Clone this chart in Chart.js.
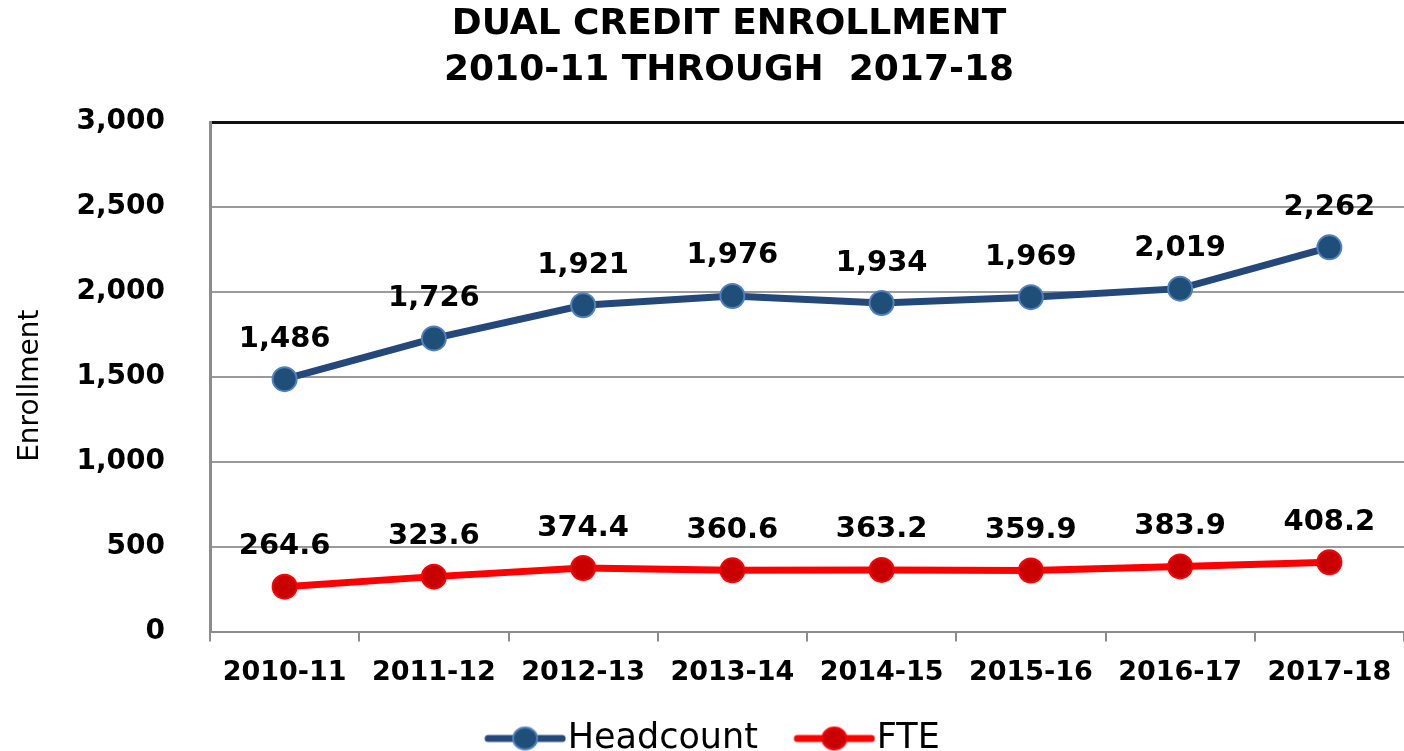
<!DOCTYPE html>
<html lang="en">
<head>
  <meta charset="UTF-8">
  <title>Dual Credit Enrollment</title>
  <style>
    html, body { margin: 0; padding: 0; background: #fff; overflow: hidden; }
    canvas { display: block; }
  </style>
</head>
<body>
  <canvas id="enrollChart" width="1404" height="751"></canvas>

  <script src="https://cdn.jsdelivr.net/npm/chart.js"></script>
  <script>
    // chart data
    const years = ['2010-11', '2011-12', '2012-13', '2013-14', '2014-15', '2015-16', '2016-17', '2017-18'];
    const headcount = [1486, 1726, 1921, 1976, 1934, 1969, 2019, 2262];
    const fte = [264.6, 323.6, 374.4, 360.6, 363.2, 359.9, 383.9, 408.2];
    const seriesNames = ['Headcount', 'FTE'];
    const titleLines = ['DUAL CREDIT ENROLLMENT', '2010-11 THROUGH  2017-18'];

    const FONT = "'DejaVu Sans', sans-serif";
    const TITLE_SIZE = 36;
    const TITLE_LH = 46;

    // legend symbol: short line with a dot in the middle
    function legendSymbol(lineColor, dotColor, rimColor) {
      const c = document.createElement('canvas');
      c.width = 92; c.height = 28;
      const g = c.getContext('2d');
      g.strokeStyle = lineColor;
      g.lineWidth = 7;
      g.lineCap = 'round';
      g.beginPath();
      g.moveTo(14, 14); g.lineTo(88, 14);
      g.stroke();
      g.beginPath();
      g.ellipse(51, 14, 12, 11, 0, 0, Math.PI * 2);
      g.fillStyle = dotColor;
      g.fill();
      g.lineWidth = 2;
      g.strokeStyle = rimColor;
      g.stroke();
      return c;
    }

    // value labels above each point, title drawn a little right of centre
    const pointLabels = {
      id: 'pointLabels',
      afterLayout(chart) {
        // the legend sits a bit right of centre in the original
        chart.legend.left += 13;
        chart.legend.right += 13;
      },
      afterDatasetsDraw(chart) {
        const ctx = chart.ctx;
        ctx.save();
        ctx.font = 'bold 29px ' + FONT;
        ctx.fillStyle = '#000';
        ctx.textAlign = 'center';
        ctx.textBaseline = 'middle';
        chart.data.datasets.forEach((ds, i) => {
          const meta = chart.getDatasetMeta(i);
          meta.data.forEach((pt, j) => {
            const v = ds.data[j];
            const txt = i === 0 ? v.toLocaleString('en-US') : v.toFixed(1);
            ctx.fillText(txt, pt.x, pt.y - 40);
          });
        });
        ctx.restore();
      },
      afterDraw(chart) {
        const ctx = chart.ctx;
        const top = chart.titleBlock.top + 2;
        ctx.save();
        ctx.font = 'bold ' + TITLE_SIZE + 'px ' + FONT;
        ctx.fillStyle = '#000';
        ctx.textAlign = 'center';
        ctx.textBaseline = 'middle';
        titleLines.forEach((t, i) => {
          ctx.fillText(t, 729, top + TITLE_LH * (i + 0.5));
        });
        ctx.restore();
      }
    };

    new Chart(document.getElementById('enrollChart'), {
      type: 'line',
      data: {
        labels: years,
        datasets: [
          {
            label: seriesNames[0],
            data: headcount,
            borderColor: '#24487A',
            borderWidth: 7,
            pointRadius: 12,
            pointBackgroundColor: '#1F4E79',
            pointBorderColor: '#4F81BD',
            pointBorderWidth: 2,
            pointStyle: 'circle',
            tension: 0
          },
          {
            label: seriesNames[1],
            data: fte,
            borderColor: '#FF0000',
            borderWidth: 7,
            pointRadius: 12,
            pointBackgroundColor: '#C80000',
            pointBorderColor: '#FF0000',
            pointBorderWidth: 2,
            pointStyle: 'circle',
            tension: 0
          }
        ]
      },
      options: {
        responsive: false,
        animation: false,
        layout: { autoPadding: false, padding: { top: 0, right: 0, bottom: -15, left: 0 } },
        plugins: {
          title: {
            display: true,
            text: titleLines,
            color: 'rgba(0,0,0,0)',   // reserved space only, text drawn by pointLabels
            font: { family: FONT, size: TITLE_SIZE, weight: 'bold', lineHeight: TITLE_LH / TITLE_SIZE },
            padding: { top: 2, bottom: 28 }
          },
          legend: {
            position: 'bottom',
            labels: {
              usePointStyle: true,
              pointStyleWidth: 60,
              color: '#000',
              font: { family: FONT, size: 35 },
              padding: 8,
              generateLabels(chart) {
                return [
                  { text: seriesNames[0] + '   ', pointStyle: legendSymbol('#24487A', '#1F4E79', '#4F81BD'), datasetIndex: 0, lineWidth: 0, fontColor: '#000' },
                  { text: seriesNames[1], pointStyle: legendSymbol('#FF0000', '#C80000', '#FF0000'), datasetIndex: 1, lineWidth: 0, fontColor: '#000' }
                ];
              }
            }
          },
          tooltip: { enabled: false }
        },
        scales: {
          x: {
            offset: true,
            afterFit(scale) {
              scale.paddingLeft = 0;
              scale.paddingRight = 0;
              scale.height += 9;
            },
            grid: {
              offset: true,
              drawOnChartArea: false,
              drawTicks: true,
              tickLength: 10,
              color: '#8C8C8C',
              lineWidth: 2
            },
            border: { color: '#8C8C8C', width: 2 },
            ticks: {
              color: '#000',
              font: { family: FONT, size: 27, weight: 'bold' },
              padding: 15,
              maxRotation: 0,
              autoSkip: false
            }
          },
          y: {
            min: 0,
            max: 3000,
            afterFit(scale) { scale.width = 210; },
            grid: {
              drawTicks: false,
              color: ctx => ctx.tick && ctx.tick.value === 3000 ? '#111' : '#9A9A9A',
              lineWidth: ctx => ctx.tick && ctx.tick.value === 3000 ? 3 : 2
            },
            border: { color: '#8C8C8C', width: 3 },
            ticks: {
              stepSize: 500,
              color: '#000',
              font: { family: FONT, size: 28, weight: 'bold' },
              padding: 45,
              callback: v => v.toLocaleString('en-US')
            },
            title: {
              display: true,
              text: 'Enrollment  ',
              color: '#000',
              font: { family: FONT, size: 28 },
              padding: { top: 14, bottom: 0 }
            }
          }
        }
      },
      plugins: [pointLabels]
    });
  </script>
</body>
</html>
